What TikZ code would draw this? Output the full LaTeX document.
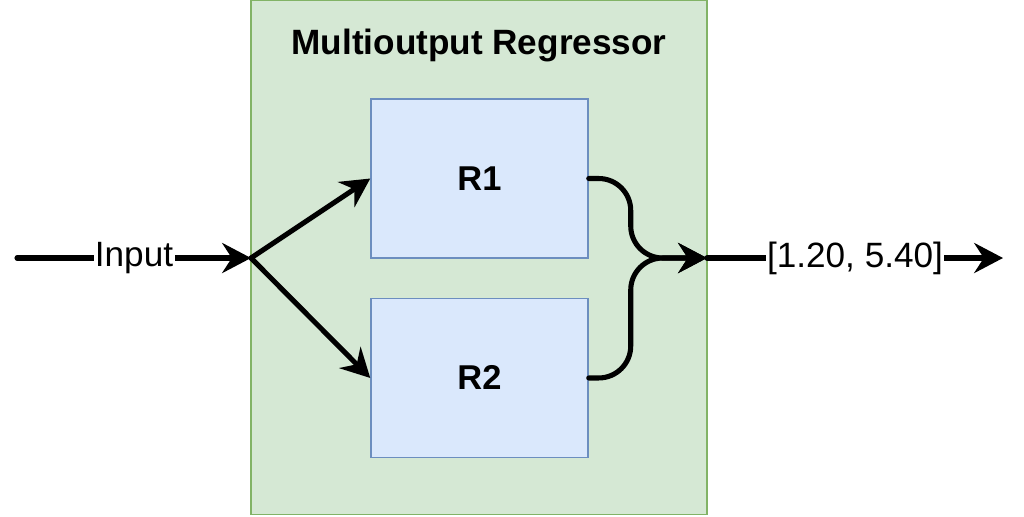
\documentclass[tikz,border=0pt]{standalone}
\usepackage{fontspec}
\setmainfont{Liberation Sans}
\usepackage{tikz}
\usetikzlibrary{arrows.meta,positioning}

\definecolor{groupfill}{HTML}{D5E8D4}
\definecolor{groupline}{HTML}{82B366}
\definecolor{modelfill}{HTML}{DAE8FC}
\definecolor{modelline}{HTML}{6C8EBF}

\begin{document}
\begin{tikzpicture}[x=0.025cm,y=-0.025cm,->,>={Stealth[length=0.72cm,width=0.75cm,inset=0.24cm]},
                    line width=3.6pt,line cap=round,node distance=0.975cm]
  \tikzstyle{container}=[draw=groupline,fill=groupfill,line width=1pt,minimum width=11.4cm,
                         minimum height=12.85cm,inner sep=0pt]
  \tikzstyle{model}=[draw=modelline,fill=modelfill,line width=1pt,minimum width=5.425cm,
                     minimum height=3.975cm,font=\bfseries\fontsize{24.5}{29}\selectfont]
  \tikzstyle{edgetext}=[fill=white,inner sep=1pt,font=\fontsize{25}{30}\selectfont]

  \useasboundingbox (0,0) rectangle (1024,516);
  \node[container] (box) at (479,257.5) {};
  \node[font=\bfseries\fontsize{25}{30}\selectfont] (title) at (479,45) {Multioutput Regressor};
  \node[model] (r1) at (479.5,178.5) {R1};
  \node[model] (r2) [below=of r1] {R2};

  \coordinate (src)   at (17,258);
  \coordinate (fork)  at (251,258);
  \coordinate (merge) at (707,258);
  \coordinate (dst)   at (1003,258);

  \draw (src) -- node[edgetext] {Input} (fork);
  \draw (fork) -- (r1.west);
  \draw (fork) -- (r2.west);
  \draw[rounded corners=0.8cm] (r1.east) -- ++(42,0) |- (merge);
  \draw[rounded corners=0.8cm] (r2.east) -- ++(42,0) |- (merge);
  \draw (merge) -- node[edgetext] {[1.20, 5.40]} (dst);
\end{tikzpicture}
\end{document}
